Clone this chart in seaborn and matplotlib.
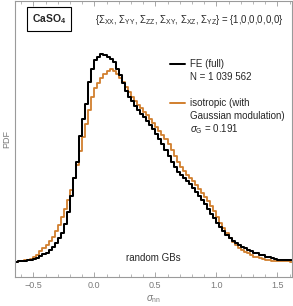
import numpy as np
import pandas as pd
import matplotlib
matplotlib.use("Agg")
import matplotlib.pyplot as plt
import seaborn as sns
from matplotlib.lines import Line2D

# histogram bins (sigma_nn) and PDF values
bin_lo, bin_hi, bin_w = -0.65, 1.625, 0.025
bin_centers = np.arange(bin_lo + bin_w / 2, bin_hi, bin_w)

pdf_fe = [
    0.003, 0.005, 0.006, 0.008, 0.012, 0.014, 0.019, 0.027, 0.037, 0.050,
    0.061, 0.077, 0.097, 0.123, 0.152, 0.187, 0.245, 0.323, 0.426, 0.542,
    0.645, 0.813, 0.923, 1.019, 1.161, 1.245, 1.303, 1.323, 1.342, 1.335,
    1.323, 1.310, 1.290, 1.245, 1.206, 1.155, 1.103, 1.065, 1.039, 1.006,
    0.981, 0.955, 0.935, 0.910, 0.884, 0.858, 0.826, 0.794, 0.761, 0.723,
    0.684, 0.645, 0.613, 0.581, 0.561, 0.542, 0.523, 0.503, 0.477, 0.452,
    0.426, 0.400, 0.374, 0.342, 0.310, 0.284, 0.252, 0.226, 0.200, 0.174,
    0.155, 0.135, 0.123, 0.110, 0.097, 0.087, 0.077, 0.068, 0.061, 0.055,
    0.048, 0.042, 0.035, 0.029, 0.024, 0.019, 0.015, 0.013, 0.012, 0.010,
    0.010,
]

pdf_iso = [
    0.003, 0.005, 0.007, 0.010, 0.014, 0.019, 0.032, 0.048, 0.068, 0.087,
    0.110, 0.135, 0.161, 0.200, 0.239, 0.290, 0.342, 0.400, 0.465, 0.542,
    0.626, 0.716, 0.806, 0.890, 0.981, 1.065, 1.123, 1.155, 1.187, 1.213,
    1.232, 1.245, 1.232, 1.213, 1.187, 1.161, 1.129, 1.097, 1.065, 1.039,
    1.013, 0.994, 0.968, 0.948, 0.923, 0.897, 0.871, 0.845, 0.819, 0.794,
    0.761, 0.723, 0.684, 0.645, 0.613, 0.587, 0.561, 0.542, 0.523, 0.497,
    0.471, 0.445, 0.419, 0.394, 0.361, 0.329, 0.290, 0.252, 0.219, 0.187,
    0.155, 0.129, 0.110, 0.090, 0.077, 0.065, 0.055, 0.045, 0.035, 0.029,
    0.023, 0.017, 0.014, 0.012, 0.009, 0.008, 0.006, 0.005, 0.005, 0.004,
    0.003,
]

x_major = [-0.5, 0.0, 0.5, 1.0, 1.5]
x_labels = ["\u22120.5", "0.0", "0.5", "1.0", "1.5"]

n = len(pdf_fe)
df = pd.DataFrame({
    "sigma_nn": np.concatenate([bin_centers[:n], bin_centers[:n]]),
    "pdf": pdf_fe + pdf_iso,
    "series": ["FE"] * n + ["iso"] * len(pdf_iso),
})

sns.set_theme(style="white")
plt.rcParams["font.family"] = ["Liberation Sans", "DejaVu Sans"]
plt.rcParams["mathtext.fontset"] = "custom"
plt.rcParams["mathtext.rm"] = "Liberation Sans"
plt.rcParams["mathtext.it"] = "Liberation Sans:italic"
plt.rcParams["mathtext.bf"] = "Liberation Sans:bold"

black = "#000000"
orange = "#d17f2e"
gray = "#7a7a7a"

fig = plt.figure(figsize=(2.93, 3.06), dpi=100)
ax = fig.add_axes([15 / 293, 29 / 306, 277 / 293, 276 / 306])

for name, color, lw in [("iso", orange, 1.3), ("FE", black, 1.45)]:
    sub = df[df["series"] == name]
    sns.histplot(data=sub, x="sigma_nn", weights="pdf", binwidth=bin_w,
                 binrange=(bin_lo, bin_hi), element="step", fill=False,
                 stat="count", color=color, linewidth=lw, ax=ax)

ax.set_xlim(-0.65, 1.62)
ax.set_ylim(-0.097, 1.684)

for sp in ax.spines.values():
    sp.set_color("#9a9a9a")
    sp.set_linewidth(0.8)

ax.set_xticks(x_major)
ax.set_xticklabels(x_labels)
ax.set_xticks(np.arange(-0.6, 1.61, 0.1), minor=True)
ax.tick_params(axis="x", which="both", direction="in", top=True, bottom=True,
               color="#9a9a9a", labelsize=6.5, labelcolor=gray, pad=3)
ax.tick_params(axis="x", which="major", length=3.5, width=0.6)
ax.tick_params(axis="x", which="minor", length=2, width=0.5)
ax.set_yticks([])

ax.set_xlabel(r"$\sigma_\mathrm{nn}$", color=gray, fontsize=7, labelpad=2)
ax.set_ylabel("PDF", color=gray, fontsize=6.5, labelpad=3)

ax.text(0.122, 0.935, r"CaSO$_\mathbf{4}$", transform=ax.transAxes,
        ha="center", va="center", fontsize=7.5, fontweight="bold",
        bbox=dict(boxstyle="square,pad=0.45", fc="white", ec="black", lw=0.8))

ax.text(0.289, 0.930,
        r"{$\Sigma_\mathrm{XX}$, $\Sigma_\mathrm{YY}$, $\Sigma_\mathrm{ZZ}$, "
        r"$\Sigma_\mathrm{XY}$, $\Sigma_\mathrm{XZ}$, $\Sigma_\mathrm{YZ}$} = {1,0,0,0,0,0}",
        transform=ax.transAxes, ha="left", va="center", fontsize=6.9)

# legend drawn by hand to keep the extra info lines aligned
ax.add_line(Line2D([0.560, 0.614], [0.772, 0.772], transform=ax.transAxes,
                   color=black, lw=1.45))
ax.add_line(Line2D([0.560, 0.614], [0.630, 0.630], transform=ax.transAxes,
                   color=orange, lw=1.4))
tx = 0.632
fs = 7
ax.text(tx, 0.772, "FE (full)", transform=ax.transAxes, va="center", fontsize=fs)
ax.text(tx, 0.725, "N = 1 039 562", transform=ax.transAxes, va="center", fontsize=fs)
ax.text(tx, 0.630, "isotropic (with", transform=ax.transAxes, va="center", fontsize=fs)
ax.text(tx, 0.583, "Gaussian modulation)", transform=ax.transAxes, va="center", fontsize=fs)
ax.text(tx, 0.536, r"$\sigma_\mathrm{G}$ = 0.191", transform=ax.transAxes,
        va="center", fontsize=fs)

ax.text(0.498, 0.069, "random GBs", transform=ax.transAxes, ha="center",
        va="center", fontsize=fs)

fig.savefig("out.png", dpi=100)
